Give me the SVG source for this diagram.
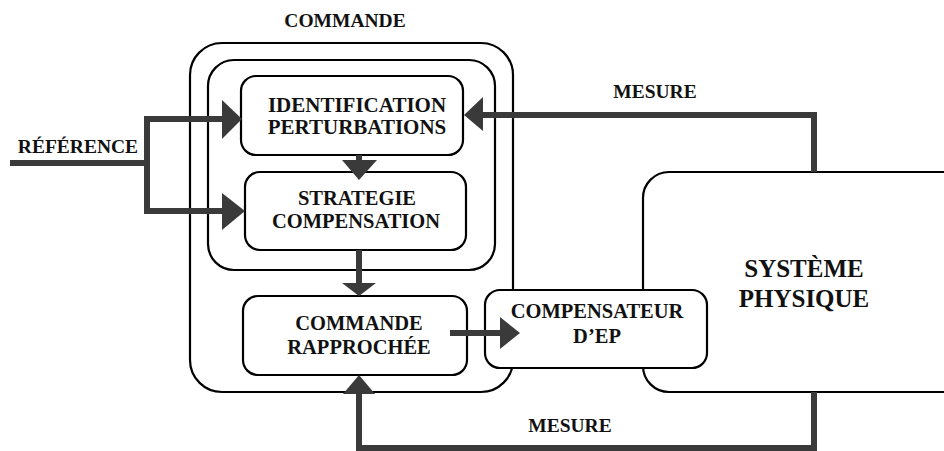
<svg xmlns="http://www.w3.org/2000/svg" width="944" height="451" viewBox="0 0 944 451">
  <style>
    .box { fill: #ffffff; stroke: #000000; stroke-width: 2.2; }
    .lbl { font-family: 'Liberation Serif', serif; font-weight: bold; fill: #111111; text-anchor: middle; }
    .wire { fill: none; stroke: #3a3a3a; stroke-width: 6; }
    .head { fill: #3a3a3a; stroke: none; }
  </style>
  <rect width="944" height="451" fill="#ffffff"/>

  <!-- Command block (outer frame) and its title -->
  <g id="commande">
    <rect class="box" x="190" y="43" width="323" height="349" rx="32"/>
    <text class="lbl" x="345" y="27" font-size="19.5">COMMANDE</text>
  </g>

  <!-- Physical system -->
  <g id="systeme">
    <rect class="box" x="643" y="172" width="330" height="220" rx="26"/>
    <text class="lbl" x="804" y="277" font-size="25">SYSTÈME</text>
    <text class="lbl" x="804" y="307" font-size="25">PHYSIQUE</text>
  </g>

  <!-- Supervisory group (identification + strategy) -->
  <g id="supervision">
    <rect class="box" x="208" y="60" width="287" height="210" rx="26"/>
  </g>

  <g id="identification">
    <rect class="box" x="241" y="76" width="222" height="79" rx="15"/>
    <text class="lbl" x="357" y="112" font-size="21">IDENTIFICATION</text>
    <text class="lbl" x="357" y="134" font-size="21">PERTURBATIONS</text>
  </g>

  <g id="strategie">
    <rect class="box" x="245" y="172" width="221" height="78" rx="15"/>
    <text class="lbl" x="357" y="205" font-size="20.5">STRATEGIE</text>
    <text class="lbl" x="356" y="228" font-size="20.5">COMPENSATION</text>
  </g>

  <g id="rapprochee">
    <rect class="box" x="243" y="296" width="224" height="79" rx="15"/>
    <text class="lbl" x="359" y="330" font-size="20.5">COMMANDE</text>
    <text class="lbl" x="359" y="354" font-size="20.5">RAPPROCHÉE</text>
  </g>

  <g id="compensateur">
    <rect class="box" x="485" y="290" width="222" height="78" rx="15"/>
    <text class="lbl" x="597" y="318" font-size="20.5">COMPENSATEUR</text>
    <text class="lbl" x="597" y="343" font-size="20.5">D’EP</text>
  </g>

  <!-- Signal flow -->
  <g id="connectors">
    <!-- reference input split to both upper blocks -->
    <path class="wire" d="M10 163 H147"/>
    <path class="wire" d="M226 119 H147 V211 H226"/>
    <polygon class="head" points="222,100 242,119 222,139"/>
    <polygon class="head" points="222,193 245,211 222,230"/>

    <!-- identification to strategy -->
    <path class="wire" d="M359 155 V162"/>
    <polygon class="head" points="342,160 377,160 359,180"/>

    <!-- strategy to close-loop control -->
    <path class="wire" d="M359 250 V285"/>
    <polygon class="head" points="342,283 376,283 359,296"/>

    <!-- close-loop control to compensator -->
    <path class="wire" d="M450 333 H502"/>
    <polygon class="head" points="500,317 520,333 500,349"/>

    <!-- upper measurement feedback -->
    <path class="wire" d="M814 172 V115 H480"/>
    <polygon class="head" points="483,97 464,115 483,131"/>

    <!-- lower measurement feedback -->
    <path class="wire" d="M814 392 V448 H359 V392"/>
    <polygon class="head" points="343,394 375,394 359,375"/>
  </g>

  <!-- Signal names -->
  <g id="signal-labels">
    <text class="lbl" x="655" y="98" font-size="19.5">MESURE</text>
    <text class="lbl" x="570" y="432" font-size="19.5">MESURE</text>
    <text class="lbl" x="78" y="153" font-size="19.5">RÉFÉRENCE</text>
  </g>
</svg>
